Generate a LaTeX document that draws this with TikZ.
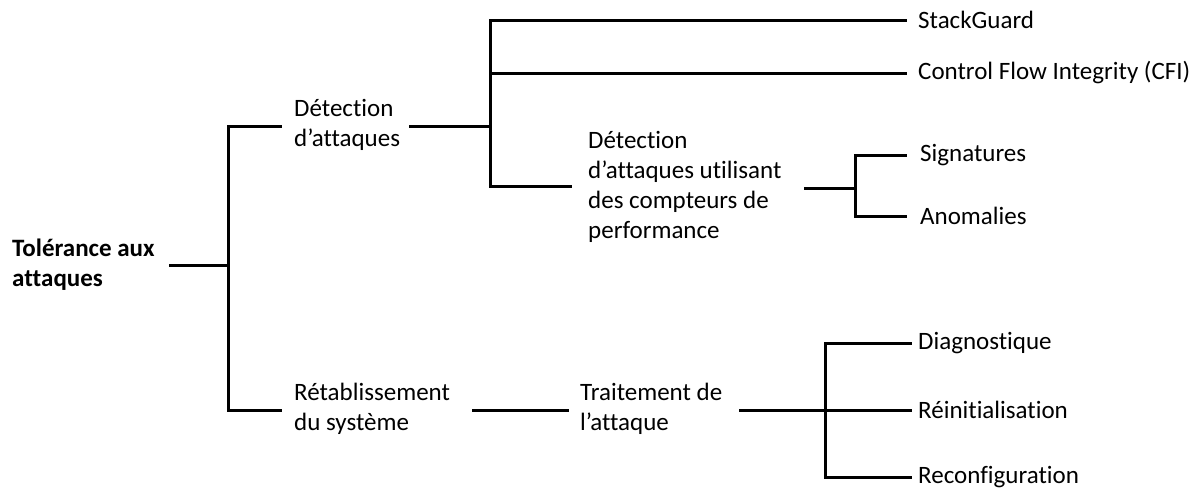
\documentclass[tikz,border=0pt]{standalone}
\usepackage{fontspec}
\setmainfont{Carlito}[RawFeature={-liga}]
\begin{document}
\begin{tikzpicture}[x=1pt,y=-1pt,
  lbl/.style={anchor=west,inner sep=0pt,align=left,font=\fontsize{25}{30}\selectfont},
  conn/.style={line width=3pt,line cap=rect}]
\useasboundingbox (0,0) rectangle (1190,490);
% texts
\node[lbl,font=\fontsize{25}{30}\selectfont\bfseries] (root) at (12,265) {Tolérance aux\\attaques};
\node[lbl] (det) at (294,125) {Détection\\d’attaques};
\node[lbl] (ret) at (294,409) {Rétablissement\\du système};
\node[lbl] (sg) at (918,20) {StackGuard};
\node[lbl] (cfi) at (918,73) {Control Flow Integrity (CFI)};
\node[lbl] (hpc) at (588,187) {Détection\\d’attaques utilisant\\des compteurs de\\performance};
\node[lbl] (sig) at (920,155) {Signatures};
\node[lbl] (ano) at (920,216) {Anomalies};
\node[lbl] (trt) at (580,409) {Traitement de\\l’attaque};
\node[lbl] (dia) at (918,343) {Diagnostique};
\node[lbl] (rei) at (918,410) {Réinitialisation};
\node[lbl] (rec) at (918,477) {Reconfiguration};
% junction and end coordinates
\coordinate (r0) at (170,265);
\coordinate (j1) at (228,265);
\coordinate (j1t) at (228,126);
\coordinate (j1b) at (228,410);
\coordinate (detin) at (280,126);
\coordinate (retin) at (280,410);
\coordinate (detout) at (410,126);
\coordinate (j2) at (490,126);
\coordinate (j2t) at (490,20);
\coordinate (j2m) at (490,73);
\coordinate (j2b) at (490,186);
\coordinate (sgin) at (905,20);
\coordinate (cfiin) at (905,73);
\coordinate (hpcin) at (570,186);
\coordinate (hpcout) at (805,188);
\coordinate (j3) at (855,188);
\coordinate (j3t) at (855,155);
\coordinate (j3b) at (855,216);
\coordinate (sigin) at (905,155);
\coordinate (anoin) at (905,216);
\coordinate (retout) at (473,410);
\coordinate (trtin) at (567,410);
\coordinate (trtout) at (740,410);
\coordinate (j4) at (825,410);
\coordinate (j4t) at (825,343);
\coordinate (j4b) at (825,477);
\coordinate (diain) at (910,343);
\coordinate (reiin) at (910,410);
\coordinate (recin) at (910,477);
% connectors
\draw[conn] (r0) -- (j1);
\draw[conn] (detin) -- (j1t) -- (j1b) -- (retin);
\draw[conn] (detout) -- (j2);
\draw[conn] (sgin) -- (j2t) -- (j2b) -- (hpcin);
\draw[conn] (j2m) -- (cfiin);
\draw[conn] (hpcout) -- (j3);
\draw[conn] (sigin) -- (j3t) -- (j3b) -- (anoin);
\draw[conn] (retout) -- (trtin);
\draw[conn] (trtout) -- (j4);
\draw[conn] (diain) -- (j4t) -- (j4b) -- (recin);
\draw[conn] (j4) -- (reiin);
\end{tikzpicture}
\end{document}
